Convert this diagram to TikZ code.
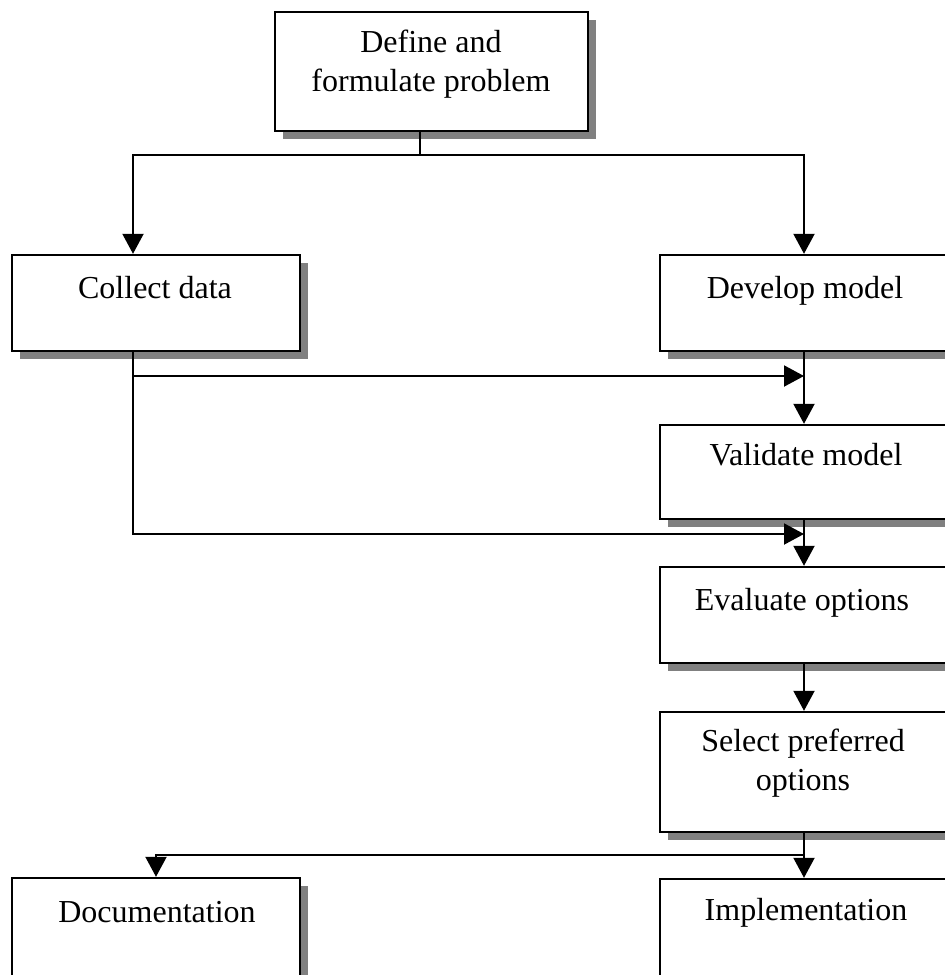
\documentclass[tikz,border=0pt]{standalone}
\usepackage{fontspec}
\setmainfont{Liberation Serif}
\usetikzlibrary{arrows.meta,shadows}
\begin{document}
\begin{tikzpicture}[x=1pt,y=-1pt,
  box/.style={draw, line width=2.4pt, fill=white, rectangle, inner sep=0pt,
    drop shadow={shadow xshift=8pt, shadow yshift=-8pt, fill=black!50, opacity=1}},
  lbl/.style={font=\fontsize{32}{39}\selectfont, anchor=base, inner sep=0pt, align=center},
  link/.style={line width=2pt},
  arr/.style={link, -{Triangle[length=20pt,width=21pt]}},
]
\useasboundingbox (0,0) rectangle (945,975);
\clip (0,0) rectangle (945,975);

% process boxes
\node[box, minimum width=313pt, minimum height=119pt] (define) at (431.5,71.5) {};
\node[box, minimum width=288pt, minimum height=96pt] (collect) at (156,303) {};
\node[box, minimum width=288pt, minimum height=96pt] (develop) at (804,303) {};
\node[box, minimum width=288pt, minimum height=94pt] (validate) at (804,472) {};
\node[box, minimum width=288pt, minimum height=96pt] (evaluate) at (804,615) {};
\node[box, minimum width=288pt, minimum height=120pt] (select) at (804,772) {};
\node[box, minimum width=288pt, minimum height=120pt] (documentation) at (156,938) {};
\node[box, minimum width=288pt, minimum height=120pt] (implementation) at (804,939) {};

% box captions (base anchor sits on the last line)
\node[lbl] (defineT) at (431,91) {Define and\\formulate problem};
\node[lbl] (collectT) at (155,298) {Collect data};
\node[lbl] (developT) at (805,298) {Develop model};
\node[lbl] (validateT) at (806,465) {Validate model};
\node[lbl] (evaluateT) at (802,610) {Evaluate options};
\node[lbl] (selectT) at (803,790) {Select preferred\\options};
\node[lbl] (documentationT) at (157,922) {Documentation};
\node[lbl] (implementationT) at (806,920) {Implementation};

% junction points
\coordinate (split) at (420,155);
\coordinate (lcol) at (133,0);
\coordinate (j1) at (804,376);
\coordinate (j2) at (804,534);
\coordinate (j3) at (804,855);

% connectors
\draw[link] (define.south -| split) -- (split);
\draw[arr] (split) -| (lcol |- collect.north);
\draw[arr] (split) -| (develop.north);
\draw[arr] (lcol |- collect.south) |- (j2);
\draw[arr] (lcol |- j1) -- (j1);
\draw[arr] (develop.south) -- (validate.north);
\draw[arr] (validate.south) -- (evaluate.north);
\draw[arr] (evaluate.south) -- (select.north);
\draw[arr] (select.south) -- (implementation.north);
\draw[arr] (j3) -| (documentation.north);
\end{tikzpicture}
\end{document}
